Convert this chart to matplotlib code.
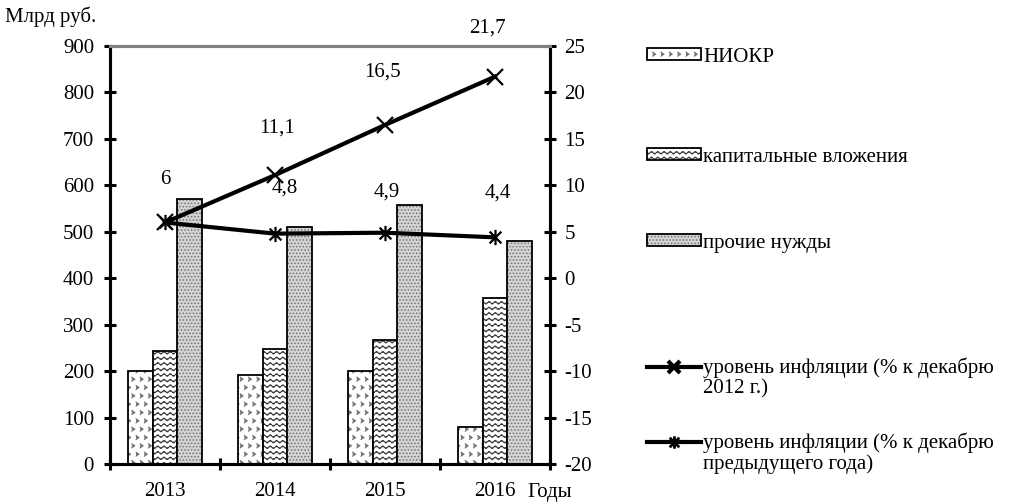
import matplotlib
matplotlib.use("Agg")
import matplotlib.pyplot as plt
import matplotlib.hatch as mhatch
from matplotlib.lines import Line2D
from matplotlib.path import Path
import numpy as np

# данные
years = ["2013", "2014", "2015", "2016"]
niokr = [200, 192, 200, 80]
kap = [243, 247, 268, 358]
prochie = [570, 510, 557, 480]
infl_2012 = [6, 11.1, 16.5, 21.7]
infl_prev = [6, 4.8, 4.9, 4.4]
infl_2012_lbl = ["6", "11,1", "16,5", "21,7"]
infl_prev_lbl = ["", "4,8", "4,9", "4,4"]


# волнистая штриховка ("~") и уголки (">") -- своих типов в matplotlib нет
class WaveHatch(mhatch.HatchPatternBase):
    def __init__(self, hatch, density):
        self.num_lines = hatch.count('~') * 3
        self.num_vertices = self.num_lines * 129

    def set_vertices_and_codes(self, vertices, codes):
        t = np.linspace(0, 1, 129)
        for i in range(self.num_lines):
            y0 = (i + 0.5) / self.num_lines
            v = vertices[i * 129:(i + 1) * 129]
            v[:, 0] = t
            v[:, 1] = y0 + 0.013 * np.sin(2 * np.pi * 16 * t)
            c = codes[i * 129:(i + 1) * 129]
            c[:] = Path.LINETO
            c[0] = Path.MOVETO


class ChevronHatch(mhatch.HatchPatternBase):
    def __init__(self, hatch, density):
        self.n = hatch.count('>') * 3
        self.num_vertices = self.n * self.n * 3

    def set_vertices_and_codes(self, vertices, codes):
        k = 0
        s = 0.36 / self.n
        for r in range(self.n):
            for q in range(self.n):
                x = (q + 0.5 * (r % 2)) / self.n
                y = (r + 0.5) / self.n
                vertices[k:k + 3] = [(x - s / 2, y + s * 0.7), (x + s / 2, y), (x - s / 2, y - s * 0.7)]
                codes[k:k + 3] = [Path.MOVETO, Path.LINETO, Path.LINETO]
                k += 3


mhatch._hatch_types.extend([WaveHatch, ChevronHatch])

plt.rcParams['font.family'] = ['Liberation Serif', 'DejaVu Serif']
plt.rcParams['font.size'] = 15
plt.rcParams['axes.unicode_minus'] = False
plt.rcParams['hatch.linewidth'] = 0.7

fig = plt.figure(figsize=(10.11, 5.04), dpi=100)
ax = fig.add_axes([110 / 1011, 40 / 504, 440 / 1011, 418 / 504])
ax2 = ax.twinx()

x = np.arange(len(years))
w = 0.224
b1 = ax.bar(x - w, niokr, w, facecolor='white', edgecolor='black', hatch='>>>>', lw=1.3, zorder=2)
b2 = ax.bar(x, kap, w, facecolor='white', edgecolor='black', hatch='~~~~~~', lw=1.3, zorder=2)
b3 = ax.bar(x + w, prochie, w, facecolor='#d4d4d4', edgecolor='black', hatch='.....', lw=1.3, zorder=2)
for b, hc in ((b1, 0.45), (b2, 0.2), (b3, 0.45)):
    for p in b:
        p._hatch_color = (hc, hc, hc, 1)

star = Path([(-1, -1), (1, 1), (-1, 1), (1, -1), (0, -1.3), (0, 1.3)],
            [Path.MOVETO, Path.LINETO] * 3)
l1, = ax2.plot(x, infl_2012, color='black', lw=3, marker='x', ms=12, mew=1.6, zorder=3)
l2, = ax2.plot(x, infl_prev, color='black', lw=3, marker=star, ms=11, mew=1.6, zorder=3)

# подписи значений (сдвиги в пикселях)
off1 = [(0, 43), (2, 47), (-3, 53), (-8, 49)]
off2 = [(0, 0), (10, 46), (2, 41), (3, 44)]
for xi, yi, t, o in zip(x, infl_2012, infl_2012_lbl, off1):
    ax2.annotate(t, (xi, yi), xytext=o, textcoords='offset pixels', ha='center', va='center')
for xi, yi, t, o in zip(x, infl_prev, infl_prev_lbl, off2):
    if t:
        ax2.annotate(t, (xi, yi), xytext=o, textcoords='offset pixels', ha='center', va='center')

ax.set_xlim(-0.5, 3.5)
ax.set_ylim(0, 900)
ax2.set_ylim(-20, 25)
ax.set_yticks(range(0, 901, 100))
ax2.set_yticks(range(-20, 26, 5))
ax.set_xticks(x)
ax.set_xticklabels(years)
ax.set_xticks(np.arange(-0.5, 3.6, 1), minor=True)
ax.tick_params(axis='x', which='major', length=0, pad=13)
ax.tick_params(axis='x', which='minor', direction='inout', length=9, width=2.2)
ax.tick_params(axis='y', direction='inout', length=9, width=2.2, pad=7)
ax2.tick_params(axis='y', direction='inout', length=9, width=2.2, pad=6)

for a in (ax, ax2):
    for s in a.spines.values():
        s.set_linewidth(2.2)
    a.spines['top'].set_color('#808080')

fig.text(5 / 1011, 1 - 17 / 504, "Млрд руб.", ha='left', va='center')
fig.text(527 / 1011, 1 - 493 / 504, "Годы", ha='left', va='center')

# легенда: каждая запись отдельно
entries = [
    (b1, "НИОКР", 57, None),
    (b2, "капитальные вложения", 157, None),
    (b3, "прочие нужды", 243, None),
    (Line2D([], [], color='black', lw=3, marker='x', ms=8, mew=3),
     "уровень инфляции (% к декабрю", 368, "2012 г.)"),
    (Line2D([], [], color='black', lw=3, marker=star, ms=9, mew=2),
     "уровень инфляции (% к декабрю", 443, "предыдущего года)"),
]
legs = []
for h, lab, ypx, extra in entries:
    leg = fig.legend([h], [lab], loc='center left', bbox_to_anchor=(647 / 1011, 1 - ypx / 504),
                     frameon=False, handlelength=2.6, handleheight=0.5, handletextpad=0.1,
                     borderpad=0, borderaxespad=0)
    legs.append((leg, ypx, extra))

fig.canvas.draw()
for leg, ypx, extra in legs:
    if extra:
        bb = leg.get_texts()[0].get_window_extent()
        fig.text(bb.x0 / 1011, 1 - (ypx + 21) / 504, extra, ha='left', va='center')

fig.savefig("out.png", dpi=100)
